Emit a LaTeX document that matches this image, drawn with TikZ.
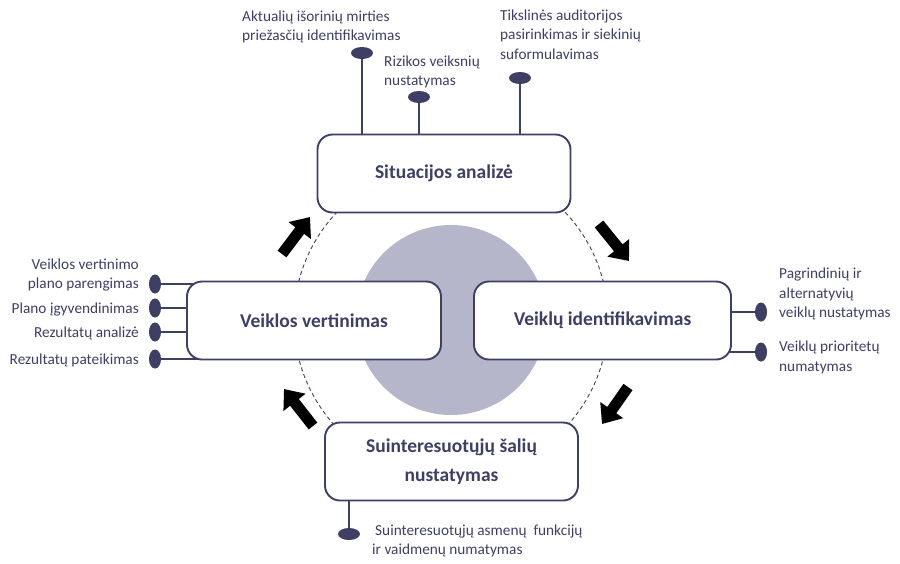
\documentclass[tikz,border=0pt]{standalone}
\usepackage{fontspec}
\setmainfont{Carlito}
\usetikzlibrary{arrows.meta,positioning,shapes.geometric,backgrounds}
\definecolor{navy}{HTML}{3D3F65}
\definecolor{lavender}{HTML}{B6B6CA}
\tikzset{
  stagebox/.style={draw=navy, line width=1.9pt, fill=white, rounded corners=15pt,
    minimum width=253pt, minimum height=78pt, align=center, text=navy,
    font=\fontsize{19.5}{29}\selectfont\bfseries},
  hpin/.style={ellipse, fill=navy, inner sep=0pt, minimum width=22pt, minimum height=12pt},
  vpin/.style={ellipse, fill=navy, inner sep=0pt, minimum width=12pt, minimum height=19pt},
  note/.style={text=navy, inner sep=0pt, font=\fontsize{15.3}{19.3}\selectfont},
  stem/.style={draw=navy, line width=1.5pt},
  flow/.style={black, line width=11pt, -{Triangle[length=17pt,width=27pt]}},
}
\begin{document}
\begin{tikzpicture}[x=1pt,y=-1pt]
    \useasboundingbox (0,0) rectangle (900,563);

    % Centre disc and dashed cycle
    \coordinate (hub) at (451,320);
    \fill[lavender] (hub) circle (95);
    \draw[navy, line width=0.9pt, dash pattern=on 4pt off 3pt] (hub) circle (157);

    % Stages
    \node[stagebox] (sit) at (444,173.5) {Situacijos analizė};
    \node[stagebox, minimum width=254pt] (vert) at (314,320.5) {Veiklos vertinimas};
    \node[stagebox, minimum width=257pt] (ident) at (602.5,320.5) {Veiklų identifikavimas};
    \node[stagebox] (sui) at (451.5,461.5) {Suinteresuotųjų šalių\\nustatymas};

    % Cycle arrows
    \coordinate (a1s) at (282,254); \coordinate (a1e) at (310,217);
    \coordinate (a2s) at (599,224); \coordinate (a2e) at (629,261);
    \coordinate (a3s) at (628,387); \coordinate (a3e) at (602,424);
    \coordinate (a4s) at (313,426); \coordinate (a4e) at (284,389);
    \foreach \s/\e in {a1s/a1e, a2s/a2e, a3s/a3e, a4s/a4e}
        \draw[flow] (\s) -- (\e);

    % Pins: situation analysis
    \node[hpin] (p1) at (362,53) {};
    \node[hpin] (p2) at (419,97) {};
    \node[hpin] (p3) at (520,78) {};
    \node[note, align=left, anchor=west] (t1) at (242,27) {Aktualių išorinių mirties\\priežasčių identifikavimas};
    \node[note, align=left, anchor=west] (t2) at (384,72) {Rizikos veiksnių\\nustatymas};
    \node[note, align=left, anchor=west] (t3) at (500,34.5) {Tikslinės auditorijos\\pasirinkimas ir siekinių\\suformulavimas};

    % Pins: evaluation
    \node[vpin] (p4) at (155,284) {};
    \node[vpin] (p5) at (155,308) {};
    \node[vpin] (p6) at (155,332) {};
    \node[vpin] (p7) at (155,359) {};
    \node[note, align=right, anchor=east] (t4) at (139,275) {Veiklos vertinimo\\plano parengimas};
    \node[note, anchor=east] (t5) at (139,309) {Plano įgyvendinimas};
    \node[note, anchor=east] (t6) at (139,333) {Rezultatų analizė};
    \node[note, anchor=east] (t7) at (139,360) {Rezultatų pateikimas};

    % Pins: identification
    \node[vpin] (p8) at (761,312) {};
    \node[vpin] (p9) at (761,352) {};
    \node[note, align=left, anchor=west] (t8) at (779,294) {Pagrindinių ir\\alternatyvių\\veiklų nustatymas};
    \node[note, align=left, anchor=west] (t9) at (779,357.5) {Veiklų prioritetų\\numatymas};

    % Pins: stakeholders
    \node[hpin] (p10) at (349,534) {};
    \node[note, align=left, anchor=west] (t10) at (372,541) {\hspace{3pt}Suinteresuotųjų asmenų~ funkcijų\\ir vaidmenų numatymas};

    % Stems behind the boxes
    \begin{pgfonlayer}{background}
        \foreach \p in {p1,p2,p3}
            \draw[stem] (\p) -- (\p |- sit.center);
        \foreach \p in {p4,p5,p6,p7}
            \draw[stem] (\p) -- (\p -| vert.center);
        \foreach \p in {p8,p9}
            \draw[stem] (\p) -- (\p -| ident.center);
        \draw[stem] (p10) -- (p10 |- sui.center);
    \end{pgfonlayer}
\end{tikzpicture}
\end{document}
